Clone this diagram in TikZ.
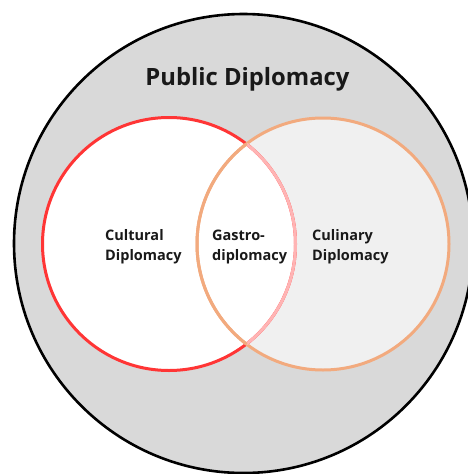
\documentclass[tikz,border=0pt]{standalone}
\usepackage{fontspec}
\setmainfont{Open Sans}
\begin{document}
\begin{tikzpicture}[x=1pt,y=-1pt,
  lbl/.style={font=\bfseries\fontsize{14.5}{20}\selectfont, align=left, inner sep=0pt, text=black!90},
  title/.style={font=\bfseries\fontsize{23.8}{28}\selectfont, inner sep=0pt, text=black!90}]
\definecolor{outergray}{HTML}{D9D9D9}
\definecolor{innergray}{HTML}{F0F0F0}
\definecolor{culred}{HTML}{FF3535}
\definecolor{culorange}{HTML}{F2AA7E}
\definecolor{lenspink}{HTML}{FFB4B4}
\useasboundingbox (0,0) rectangle (468,474);
\clip (0,0) rectangle (468,474);
% centres
\coordinate (pub) at (243.5,243.5);
\coordinate (cul) at (169,244);
\coordinate (cuy) at (323,244);
% outer circle: public diplomacy
\draw[fill=outergray, line width=2.6pt] (pub) circle (229.5);
% culinary and cultural circles
\fill[innergray] (cuy) circle (126);
\fill[white] (cul) circle (126.5);
\draw[culred, line width=3pt] (cul) circle (126.5);
\draw[culorange, line width=3pt] (cuy) circle (126);
% the overlap: red arc softened, orange arc kept on top
\begin{scope}
  \clip (cuy) circle (126);
  \draw[lenspink, line width=3pt] (cul) circle (126.5);
\end{scope}
\begin{scope}
  \clip (cul) circle (126.5);
  \draw[culorange, line width=3pt] (cuy) circle (126);
\end{scope}
% labels
\node[title] (ttl) at (247.5,79.5) {Public Diplomacy};
\node[lbl, anchor=west] (cd) at (105,247) {Cultural\\Diplomacy};
\node[lbl, anchor=west] (gd) at (212,247) {Gastro-\\diplomacy};
\node[lbl, anchor=west] (ld) at (312,247) {Culinary\\Diplomacy};
\end{tikzpicture}
\end{document}
